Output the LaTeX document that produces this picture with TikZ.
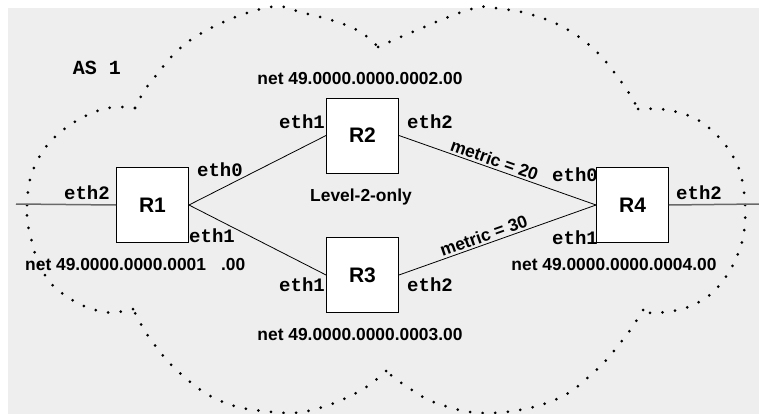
\documentclass[tikz,border=0pt]{standalone}
\usepackage{fontspec}
\setmainfont{Liberation Sans}
\setmonofont{Liberation Mono}
\definecolor{panel}{RGB}{238,238,238}
\definecolor{wire}{RGB}{105,105,105}
\begin{document}
\begin{tikzpicture}[x=1pt,y=-1pt,
  router/.style={draw=black, line width=0.9pt, fill=white, minimum width=72pt,
    minimum height=75pt, inner sep=0pt, font=\fontsize{21}{24}\selectfont\bfseries},
  iface/.style={inner sep=0pt, font=\fontsize{19}{22}\selectfont\ttfamily\bfseries},
  netlbl/.style={inner sep=0pt, font=\fontsize{17.4}{20}\selectfont\bfseries},
  metriclbl/.style={sloped, anchor=south, inner sep=2pt, font=\fontsize{17.4}{20}\selectfont\bfseries},
  link/.style={draw=black, line width=0.8pt},
  extlink/.style={draw=wire, line width=1.5pt},
  cloudline/.style={line width=3pt, line cap=round, dash pattern=on 0pt off 12.6pt}]

\useasboundingbox (0,0) rectangle (759,414);
\fill[panel] (8,8) rectangle (759,414);

% dotted cloud outline, one lobe at a time
\begin{scope}[cloudline]
\draw plot[smooth, tension=0.7] coordinates {(27,205) (33,170) (57,135) (100,110) (135,108)};
\draw plot[smooth, tension=0.7] coordinates {(135,108) (153,79) (195,37) (265,8) (304,13) (353,28) (378,47)};
\draw plot[smooth, tension=0.7] coordinates {(378,47) (410,33) (468,10) (495,8) (545,19) (588,44) (620,80) (638,109)};
\draw plot[smooth, tension=0.7] coordinates {(638,109) (673,111) (708,127) (737,164) (745,205)};
\draw plot[smooth, tension=0.7] coordinates {(745,205) (742,242) (722,282) (693,305) (656,313) (643,310)};
\draw plot[smooth, tension=0.7] coordinates {(643,310) (625,337) (593,373) (552,401) (490,413) (439,404) (406,386) (386,371)};
\draw plot[smooth, tension=0.7] coordinates {(386,371) (358,392) (312,410) (273,412) (223,402) (182,375) (151,340) (133,309)};
\draw plot[smooth, tension=0.7] coordinates {(133,309) (104,312) (69,298) (43,272) (29,230) (27,205)};
\end{scope}

% routers
\node[router] (r1) at (152.5,205) {R1};
\node[router] (r2) at (362.5,135.5) {R2};
\node[router] (r3) at (362.5,275) {R3};
\node[router] (r4) at (632.5,205) {R4};

% outside links
\coordinate (lend) at (16,204);
\coordinate (rend) at (759,204);
\draw[extlink] (lend) -- (r1.west);
\draw[extlink] (r4.east) -- (rend);

% inner links
\draw[link] (r1.east) -- (r2.west);
\draw[link] (r1.east) -- (r3.west);
\draw[link] (r2.east) -- (r4.west) node[metriclbl, pos=0.47] (m20) {metric = 20};
\draw[link] (r3.east) -- (r4.west) node[metriclbl, pos=0.445] (m30) {metric = 30};

% interface names
\node[iface] (r1e2) at (87,193) {eth2};
\node[iface] (r1e0) at (220,170) {eth0};
\node[iface] (r1e1) at (212,236) {eth1};
\node[iface] (r2e1) at (302,122) {eth1};
\node[iface] (r2e2) at (430,122) {eth2};
\node[iface] (r3e1) at (302,285) {eth1};
\node[iface] (r3e2) at (430,285) {eth2};
\node[iface] (r4e0) at (575,175) {eth0};
\node[iface] (r4e1) at (575,238) {eth1};
\node[iface] (r4e2) at (699,193) {eth2};
\node[iface, font=\fontsize{20}{22}\selectfont\ttfamily\bfseries] (as) at (97,68) {AS 1};

% NETs and area note
\node[netlbl] (n2) at (360,79) {net 49.0000.0000.0002.00};
\node[netlbl] (n3) at (360,335) {net 49.0000.0000.0003.00};
\node[netlbl] (n4) at (614,265) {net 49.0000.0000.0004.00};
\node[netlbl, anchor=west] (n1) at (25,265) {net 49.0000.0000.0001\hspace{15pt}.00};
\node[netlbl] (lvl) at (361,197) {Level-2-only};
\end{tikzpicture}
\end{document}
